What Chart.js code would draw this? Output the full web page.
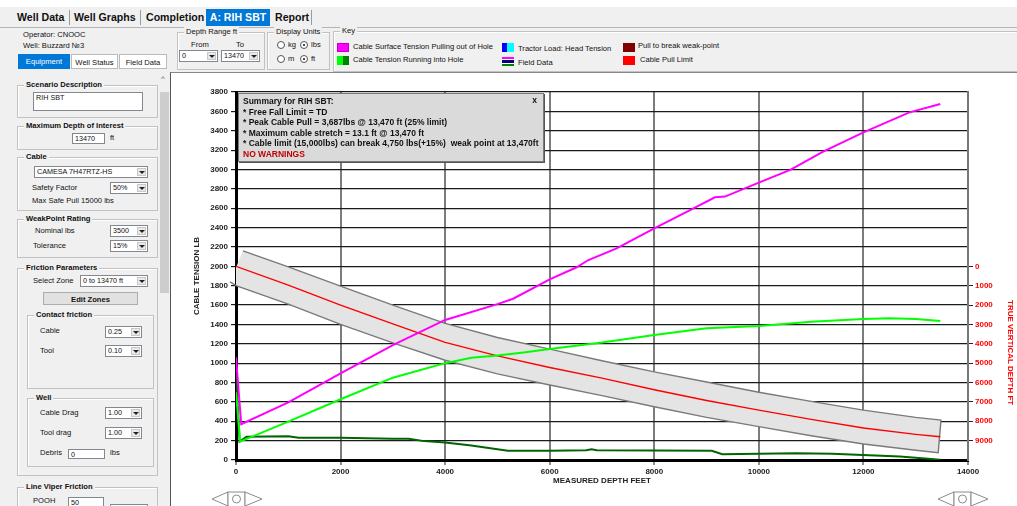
<!DOCTYPE html>
<html>
<head>
<meta charset="utf-8">
<script src="https://cdn.jsdelivr.net/npm/chart.js@4.4.0/dist/chart.umd.min.js"></script>
<style>
  body{margin:0;width:1017px;height:506px;overflow:hidden;background:#f0f0f0;position:relative;font-family:Arial,"Liberation Sans",sans-serif;color:#111}
  .tx{position:absolute;white-space:nowrap;font-size:7.6px;line-height:10px}
  .b{font-weight:bold}
  .tab{position:absolute;top:9px;height:17px;line-height:17px;font-size:10.6px;font-weight:bold;white-space:nowrap}
  .sep{position:absolute;top:10px;width:1px;height:15px;background:#9a9a9a}
  .gb{position:absolute;border:1px solid #c2c2c2;box-shadow:inset 1px 1px 0 #fff}
  .gl{position:absolute;top:-6px;left:6px;padding:0 2px;background:#f0f0f0;font-size:7.6px;line-height:10px;white-space:nowrap}
  .cb{position:absolute;height:12px;box-sizing:border-box;border:1px solid #828790;background:#fff;font-size:7.2px;line-height:10px;padding-left:2px;white-space:nowrap}
  .cb i{position:absolute;right:1px;top:1px;width:9px;height:8px;background:#e9e9e9;border:1px solid #c8c8c8;box-sizing:border-box}
  .cb i:after{content:'';position:absolute;left:1px;top:2px;border-left:3px solid transparent;border-right:3px solid transparent;border-top:3px solid #222}
  .in{position:absolute;box-sizing:border-box;border:1px solid #828790;background:#fff;font-size:7.2px;line-height:9px;padding-left:2px}
  .rd{position:absolute;width:8px;height:8px;border:1px solid #555;border-radius:50%;background:#fff;box-sizing:border-box}
  .rd.on:after{content:'';position:absolute;left:2px;top:2px;width:2px;height:2px;border-radius:50%;background:#111}
  .sw{position:absolute;width:12px;height:9px;box-sizing:border-box}
  #panel{position:absolute;left:170px;top:72px;width:847px;height:434px;background:#fff;border-left:1px solid #555;border-top:1px solid #888;box-sizing:border-box}
  #wrap{position:absolute;left:175px;top:78px;width:842px;height:428px}
  #summary{position:absolute;left:238px;top:93px;width:306px;height:69px;background:#dadada;border:1px solid #7a7a7a;box-shadow:1px 1px 0 #555;box-sizing:border-box;font-size:8.5px;font-weight:bold;line-height:10.6px;padding:2px 0 0 4px;white-space:nowrap;z-index:3}
</style>
</head>
<body>
<div style="position:absolute;left:0;top:0;width:1017px;height:7px;background:#fff"></div>
<!-- tab strip -->
<div class="tab" style="left:17px">Well Data</div>
<div class="sep" style="left:69px"></div>
<div class="tab" style="left:74px">Well Graphs</div>
<div class="sep" style="left:140px"></div>
<div class="tab" style="left:146px">Completion</div>
<div class="tab" style="left:206px;width:64px;background:#0078d7;color:#fff;text-align:center">A: RIH SBT</div>
<div class="tab" style="left:275px">Report</div>
<div class="sep" style="left:311px"></div>
<div style="position:absolute;left:0;top:27px;width:1017px;height:1px;background:#b5b5b5"></div>

<!-- header -->
<div class="tx" style="left:23px;top:30px">Operator: CNOOC</div>
<div class="tx" style="left:23px;top:41px">Well: Buzzard №3</div>
<div class="tx" style="left:18px;top:54px;width:52px;height:15px;line-height:15px;text-align:center;background:#0078d7;color:#fff">Equipment</div>
<div class="tx" style="left:71px;top:54px;width:47px;height:15px;line-height:15px;text-align:center;background:#fff;border:1px solid #bbb;box-sizing:border-box">Well Status</div>
<div class="tx" style="left:119px;top:54px;width:48px;height:15px;line-height:15px;text-align:center;background:#fff;border:1px solid #bbb;box-sizing:border-box">Field Data</div>

<div class="gb" style="left:177px;top:32px;width:86px;height:36px"><div class="gl">Depth Range ft</div></div>
<div class="tx" style="left:191px;top:40px">From</div>
<div class="tx" style="left:236px;top:40px">To</div>
<div class="cb" style="left:179px;top:50px;width:39px">0<i></i></div>
<div class="cb" style="left:221px;top:50px;width:39px">13470<i></i></div>

<div class="gb" style="left:267px;top:32px;width:61px;height:36px"><div class="gl">Display Units</div></div>
<div class="rd" style="left:277px;top:41px"></div><div class="tx" style="left:288px;top:40px">kg</div>
<div class="rd on" style="left:300px;top:41px"></div><div class="tx" style="left:311px;top:40px">lbs</div>
<div class="rd" style="left:277px;top:55px"></div><div class="tx" style="left:288px;top:54px">m</div>
<div class="rd on" style="left:300px;top:55px"></div><div class="tx" style="left:311px;top:54px">ft</div>

<div class="gb" style="left:333px;top:31px;width:690px;height:39px"><div class="gl">Key</div></div>
<div class="sw" style="left:337px;top:43px;background:#ff00ff;border:1px solid #c000c0"></div>
<div class="tx" style="left:353px;top:42px">Cable Surface Tension Pulling out of Hole</div>
<div class="sw" style="left:337px;top:56px;background:linear-gradient(90deg,#00ff00 50%,#008000 50%)"></div>
<div class="tx" style="left:353px;top:55px">Cable Tension Running into Hole</div>
<div class="sw" style="left:502px;top:43px;background:linear-gradient(90deg,#0000ff 45%,#00ffff 45%)"></div>
<div class="tx" style="left:518px;top:44px">Tractor Load: Head Tension</div>
<div class="sw" style="left:502px;top:57px;background:linear-gradient(#ff00ff 0 25%,#fff 25% 38%,#000080 38% 62%,#fff 62% 75%,#008000 75%)"></div>
<div class="tx" style="left:518px;top:58px">Field Data</div>
<div class="sw" style="left:623px;top:43px;background:#800000"></div>
<div class="tx" style="left:638px;top:41px">Pull to break weak-point</div>
<div class="sw" style="left:623px;top:56px;background:#ff0000"></div>
<div class="tx" style="left:640px;top:55px">Cable Pull Limit</div>

<!-- left sidebar -->
<div class="gb" style="left:17px;top:85px;width:139px;height:31px"><div class="gl b">Scenario Description</div></div>
<div class="in" style="left:33px;top:92px;width:110px;height:19px">RIH SBT</div>
<div class="gb" style="left:17px;top:126px;width:139px;height:22px"><div class="gl b">Maximum Depth of Interest</div></div>
<div class="in" style="left:72px;top:133px;width:33px;height:11px">13470</div>
<div class="tx" style="left:110px;top:133px">ft</div>
<div class="gb" style="left:17px;top:157px;width:139px;height:52px"><div class="gl b">Cable</div></div>
<div class="cb" style="left:34px;top:166px;width:114px">CAMESA 7H47RTZ-HS<i></i></div>
<div class="tx" style="left:32px;top:183px">Safety Factor</div>
<div class="cb" style="left:110px;top:182px;width:38px">50%<i></i></div>
<div class="tx" style="left:32px;top:196px">Max Safe Pull  15000 lbs</div>
<div class="gb" style="left:17px;top:219px;width:139px;height:37px"><div class="gl b">WeakPoint Rating</div></div>
<div class="tx" style="left:35px;top:226px">Nominal lbs</div>
<div class="cb" style="left:110px;top:225px;width:38px">3500<i></i></div>
<div class="tx" style="left:33px;top:241px">Tolerance</div>
<div class="cb" style="left:110px;top:240px;width:38px">15%<i></i></div>
<div class="gb" style="left:17px;top:268px;width:139px;height:206px"><div class="gl b">Friction Parameters</div></div>
<div class="tx" style="left:33px;top:276px">Select Zone</div>
<div class="cb" style="left:80px;top:275px;width:68px">0 to 13470 ft<i></i></div>
<div class="tx b" style="left:43px;top:292px;width:95px;height:13px;line-height:13px;text-align:center;background:#e1e1e1;border:1px solid #adadad;box-sizing:border-box">Edit Zones</div>
<div class="gb" style="left:27px;top:315px;width:125px;height:72px"><div class="gl b">Contact friction</div></div>
<div class="tx" style="left:40px;top:326px">Cable</div>
<div class="cb" style="left:105px;top:326px;width:37px">0.25<i></i></div>
<div class="tx" style="left:40px;top:346px">Tool</div>
<div class="cb" style="left:105px;top:345px;width:37px">0.10<i></i></div>
<div class="gb" style="left:27px;top:398px;width:125px;height:67px"><div class="gl b">Well</div></div>
<div class="tx" style="left:40px;top:408px">Cable Drag</div>
<div class="cb" style="left:105px;top:407px;width:37px">1.00<i></i></div>
<div class="tx" style="left:40px;top:428px">Tool drag</div>
<div class="cb" style="left:105px;top:427px;width:37px">1.00<i></i></div>
<div class="tx" style="left:40px;top:448px">Debris</div>
<div class="in" style="left:68px;top:449px;width:37px;height:10px">0</div>
<div class="tx" style="left:110px;top:448px">lbs</div>
<div class="gb" style="left:17px;top:487px;width:139px;height:40px"><div class="gl b">Line Viper Friction</div></div>
<div class="tx" style="left:33px;top:496px">POOH</div>
<div class="in" style="left:68px;top:497px;width:36px;height:11px">50</div>
<div class="cb" style="left:110px;top:504px;width:38px"><i></i></div>
<!-- scrollbar -->
<div style="position:absolute;left:159px;top:72px;width:11px;height:434px;background:#f0f0f0"></div>
<div style="position:absolute;left:160px;top:92px;width:9px;height:201px;background:#cdcdcd"></div>
<div class="tx" style="left:161px;top:74px;font-size:8px;color:#555">&#94;</div>

<!-- chart panel -->
<div id="panel"></div>
<div id="wrap"><canvas id="c" width="842" height="428"></canvas></div>
<div id="summary">
  <div>Summary for RIH SBT:</div>
  <div>* Free Fall Limit = TD</div>
  <div>* Peak Cable Pull = 3,687lbs @ 13,470 ft (25% limit)</div>
  <div>* Maximum cable stretch = 13.1 ft @ 13,470 ft</div>
  <div>* Cable limit (15,000lbs) can break 4,750 lbs(+15%)&nbsp; weak point at 13,470ft</div>
  <div style="color:#c00000">NO WARNINGS</div>
  <div style="position:absolute;right:6px;top:1px">x</div>
</div>
<div class="tx b" style="left:1005px;top:300px;writing-mode:vertical-rl;color:#ff0000;font-size:8px;line-height:10px;z-index:3">TRUE VERTICAL DEPTH FT</div>
<svg style="position:absolute;left:211px;top:491px;z-index:3" width="53" height="15"><g fill="#fff" stroke="#8a8a8a" stroke-width="1"><path d="M17 1 L1 8 L17 15 Z"/><rect x="17" y="1" width="17" height="15"/><path d="M34 1 L51 8 L34 15 Z"/><circle cx="25.5" cy="8" r="4"/></g></svg>
<svg style="position:absolute;left:937px;top:491px;z-index:3" width="53" height="15"><g fill="#fff" stroke="#8a8a8a" stroke-width="1"><path d="M17 1 L1 8 L17 15 Z"/><rect x="17" y="1" width="17" height="15"/><path d="M34 1 L51 8 L34 15 Z"/><circle cx="25.5" cy="8" r="4"/></g></svg>

<script>
// measured depth (ft) vs surface tension pulling out of hole (lb)
const pullMD = [0, 100, 1000, 2000, 3000, 4000, 5000, 5300, 6000, 6515, 6740, 7280, 8000, 8750, 9160, 9350, 10000, 10600, 11230, 12000, 12880, 13470];
const pullLb = [1060, 370, 596, 895, 1187, 1446, 1610, 1665, 1865, 1990, 2065, 2186, 2392, 2599, 2713, 2720, 2864, 2995, 3184, 3384, 3590, 3676];
// running into hole (light green)
const rihMD = [0, 80, 1000, 2000, 3000, 4000, 4500, 5000, 5500, 6000, 6580, 7000, 8000, 9000, 10000, 11000, 12000, 12500, 13000, 13470];
const rihLb = [700, 190, 396, 627, 850, 1000, 1055, 1080, 1110, 1145, 1185, 1214, 1291, 1360, 1384, 1428, 1456, 1463, 1456, 1435];
// running into hole, head tension (dark green)
const headMD = [0, 70, 200, 1000, 1200, 2000, 3000, 3300, 3600, 4000, 4500, 5200, 6000, 6700, 6800, 6900, 9100, 9300, 10700, 11400, 12700, 13470];
const headLb = [880, 190, 240, 245, 230, 230, 220, 220, 195, 180, 150, 95, 95, 100, 110, 100, 96, 59, 69, 65, 36, 3];
// true vertical depth (ft, right axis)
const tvdMD = [0, 1000, 2000, 3000, 4000, 5000, 6000, 7000, 8000, 9000, 10000, 11000, 12000, 13000, 13470];
const tvdFt = [0, 975, 2000, 2975, 3925, 4625, 5225, 5775, 6375, 6925, 7425, 7900, 8350, 8675, 8800];
// tvd envelope
const bandTopMD = [134, 1000, 2000, 3000, 4000, 5000, 6000, 7000, 8000, 9000, 10000, 11000, 12000, 13000, 13483];
const bandTopFt = [-800, 25, 1025, 2000, 2950, 3675, 4275, 4875, 5450, 5975, 6500, 6975, 7425, 7800, 7935];
const bandBotMD = [-115, 13, 1000, 2000, 3000, 4000, 5000, 6000, 7000, 8000, 9000, 10000, 11000, 12000, 13000, 13430];
const bandBotFt = [800, 1015, 1950, 3000, 3950, 4850, 5550, 6125, 6675, 7250, 7800, 8275, 8750, 9175, 9500, 9625];

const pts = (xs, ys) => xs.map((x, i) => ({x, y: ys[i]}));
// polygon: top edge left->right, then bottom edge right->left
const bandPoly = pts(bandTopMD, bandTopFt).concat(pts(bandBotMD, bandBotFt).reverse());

Chart.defaults.font.family = 'Arial, "Liberation Sans", sans-serif';
const tickFont = {size: 8, weight: 'bold'};
const plain = v => String(v);

new Chart(document.getElementById('c'), {
  type: 'line',
  data: {
    datasets: [
      {data: pts(pullMD, pullLb), borderColor: '#ff00ff', borderWidth: 2, yAxisID: 'y'},
      {data: pts(rihMD, rihLb), borderColor: '#00ff00', borderWidth: 2, yAxisID: 'y'},
      {data: pts(headMD, headLb), borderColor: '#006400', borderWidth: 2, yAxisID: 'y'},
      {data: pts(tvdMD, tvdFt), borderColor: '#ff0000', borderWidth: 1.4, yAxisID: 'y2'},
      {data: bandPoly, borderColor: '#7a7a7a', borderWidth: 1.4, backgroundColor: '#e4e4e4', fill: 'shape', yAxisID: 'y2', clip: false}
    ]
  },
  options: {
    responsive: false,
    animation: false,
    elements: {point: {radius: 0}, line: {tension: 0}},
    layout: {padding: {left: 13, top: 14, bottom: 16, right: 0}},
    plugins: {legend: {display: false}, tooltip: {enabled: false}},
    scales: {
      x: {
        type: 'linear', min: 0, max: 14000,
        ticks: {stepSize: 2000, font: tickFont, color: '#222', maxRotation: 0, padding: 2, callback: plain},
        grid: {color: '#7c7c7c', lineWidth: 2, tickLength: 5, tickColor: '#222', tickWidth: 1},
        border: {color: '#000', width: 3},
        title: {display: true, text: 'MEASURED DEPTH FEET', font: tickFont, color: '#222', padding: {top: 2, bottom: 4}},
        afterFit: s => { s.height = 30; }
      },
      y: {
        position: 'left', min: 0, max: 3800,
        ticks: {stepSize: 200, font: tickFont, color: '#222', padding: 3, callback: plain},
        grid: {color: '#1a1a1a', lineWidth: 1.2, tickLength: 5},
        border: {color: '#000', width: 3},
        title: {display: true, text: 'CABLE TENSION LB', font: tickFont, color: '#222'},
        afterFit: s => { s.width = 48; }
      },
      y2: {
        position: 'right', min: -9000, max: 10000, reverse: true,
        ticks: {stepSize: 1000, font: tickFont, color: '#ff0000', padding: 2,
          callback: v => (v >= 0 && v <= 9000) ? String(v) : ''},
        grid: {drawOnChartArea: false, tickLength: 5,
          tickColor: c => (c.tick && c.tick.value >= 0 && c.tick.value <= 9000) ? '#222' : 'rgba(0,0,0,0)'},
        border: {color: '#777', width: 2},
        afterFit: s => { s.width = 49; }
      }
    }
  }
});
</script>
</body>
</html>
